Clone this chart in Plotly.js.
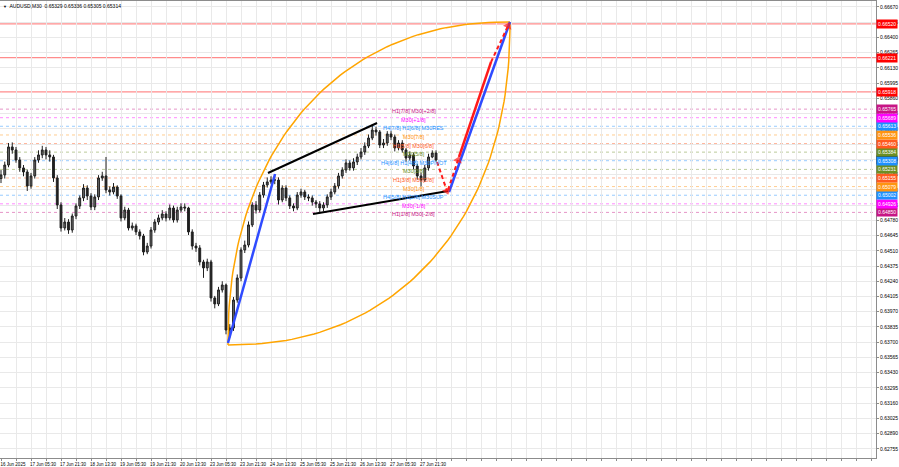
<!DOCTYPE html>
<html><head><meta charset="utf-8">
<script src="https://cdn.plot.ly/plotly-3.0.1.min.js"></script>
<style>html,body{margin:0;padding:0;background:#fff}#chart{width:899px;height:467px}</style>
</head><body><div id="chart"></div>
<script>
// ---- data: AUDUSD M30, resampled to 4-bar candles (bar index = M30 bar number) ----
const candleBars = [];
const firstOpen = 0.65150;
const closes = [0.65182,0.65270,0.65430,0.65403,0.65314,0.65244,0.65208,0.65084,0.65173,0.65314,
0.65359,0.65403,0.65359,0.65341,0.65155,0.64916,0.64712,0.64765,0.64694,0.64818,
0.64907,0.64978,0.65066,0.64995,0.64898,0.64987,0.65155,0.65173,0.65049,0.65031,
0.65075,0.64995,0.64801,0.64871,0.64712,0.64730,0.64677,0.64641,0.64499,0.64552,
0.64694,0.64765,0.64801,0.64836,0.64801,0.64889,0.64783,0.64871,0.64898,0.64889,
0.64677,0.64552,0.64535,0.64411,0.64358,0.64411,0.64092,0.64039,0.64163,0.64207,
0.63808,0.63826,0.64074,0.64269,0.64517,0.64561,0.64739,0.64916,0.64871,0.65004,
0.65093,0.65120,0.65137,0.65137,0.64960,0.65066,0.64978,0.64907,0.64889,0.65004,
0.65031,0.64987,0.64978,0.64942,0.64925,0.64889,0.64916,0.64987,0.65031,0.65084,
0.65173,0.65226,0.65288,0.65244,0.65297,0.65341,0.65385,0.65438,0.65509,0.65580,
0.65563,0.65447,0.65465,0.65545,0.65518,0.65421,0.65465,0.65403,0.65332,0.65359,
0.65261,0.65173,0.65137,0.65244,0.65341,0.65376,0.65314];
const highs = [0.65225,0.65300,0.65465,0.65470,0.65430,0.65340,0.65270,0.65230,0.65200,0.65340,
0.65400,0.65440,0.65430,0.65400,0.65360,0.65180,0.64940,0.64800,0.64790,0.64840,
0.64930,0.65000,0.65100,0.65090,0.65020,0.65010,0.65180,0.65210,0.65341,0.65080,
0.65110,0.65090,0.65010,0.64900,0.64890,0.64760,0.64750,0.64700,0.64660,0.64580,
0.64720,0.64790,0.64830,0.64870,0.64860,0.64920,0.64910,0.64900,0.64930,0.64930,
0.64900,0.64700,0.64580,0.64560,0.64430,0.64440,0.64430,0.64110,0.64190,0.64240,
0.64220,0.63860,0.64100,0.64300,0.64540,0.64600,0.64770,0.64940,0.64950,0.65030,
0.65120,0.65160,0.65170,0.65180,0.65160,0.65090,0.65090,0.65000,0.64930,0.65030,
0.65060,0.65050,0.65010,0.65000,0.64960,0.64950,0.64940,0.65010,0.65060,0.65110,
0.65200,0.65250,0.65320,0.65310,0.65330,0.65370,0.65420,0.65470,0.65540,0.65630,
0.65610,0.65580,0.65500,0.65570,0.65570,0.65540,0.65490,0.65490,0.65420,0.65390,
0.65380,0.65280,0.65200,0.65270,0.65370,0.65400,0.65400];
const lows = [0.65110,0.65150,0.65250,0.65370,0.65290,0.65210,0.65170,0.65040,0.65060,0.65150,
0.65290,0.65330,0.65320,0.65300,0.65120,0.64880,0.64680,0.64690,0.64660,0.64670,
0.64790,0.64880,0.64950,0.64960,0.64870,0.64870,0.64960,0.65130,0.65020,0.65000,
0.65010,0.64970,0.64770,0.64780,0.64690,0.64690,0.64650,0.64610,0.64470,0.64480,
0.64530,0.64670,0.64740,0.64780,0.64770,0.64780,0.64760,0.64760,0.64850,0.64860,
0.64650,0.64520,0.64500,0.64380,0.64270,0.64330,0.64060,0.64000,0.64020,0.64140,
0.63770,0.63740,0.63800,0.64050,0.64240,0.64490,0.64540,0.64720,0.64840,0.64850,
0.64980,0.65070,0.65100,0.65100,0.64920,0.64940,0.64950,0.64880,0.64860,0.64870,
0.64980,0.64960,0.64950,0.64910,0.64890,0.64840,0.64860,0.64890,0.64960,0.65010,
0.65060,0.65150,0.65200,0.65220,0.65220,0.65270,0.65320,0.65360,0.65420,0.65490,
0.65530,0.65420,0.65420,0.65440,0.65490,0.65390,0.65400,0.65380,0.65300,0.65310,
0.65230,0.65140,0.65080,0.65120,0.65220,0.65330,0.65300];
const barsPerCandle = 4;

// time axis labels (every 32 M30 bars)
const timeLabels = ['16 Jun 2025','17 Jun 05:30','17 Jun 21:30','18 Jun 13:30','19 Jun 05:30','19 Jun 21:30',
 '20 Jun 13:30','23 Jun 05:30','23 Jun 21:30','24 Jun 13:30','25 Jun 05:30','25 Jun 21:30','26 Jun 13:30',
 '27 Jun 05:30','27 Jun 21:30'];

// Murrey math levels
const levelPrices = [0.64850,0.64926,0.65002,0.65079,0.65155,0.65231,0.65308,0.65384,0.65460,0.65536,0.65613,0.65689,0.65765];
const levelLabels = ['0.64850','0.64926','0.65002','0.65079','0.65155','0.65231','0.65308','0.65384','0.65460','0.65536','0.65613','0.65689','0.65765'];
const levelColors = ['#c71585','#ff00ff','#1e90ff','#ff9410','#ff5a1f','#6b8e23','#1e90ff','#6b8e23','#ff5a1f','#ff9410','#1e90ff','#ff00ff','#c71585'];
const levelTexts = ['H1[1/8] M30[-2/8]','M30[-1/8]','H4[5/8] H1[2/8] M30SUP','M30[1/8]','H1[3/8] M30[2/8]','M30[3/8]',
 'H4[6/8] H1[4/8] M30PIVOT','M30[5/8]','H1[5/8] M30[6/8]','M30[7/8]','H4[7/8] H1[6/8] M30RES','M30[+1/8]','H1[7/8] M30[+2/8]'];

// red resistance lines
const redPrices = [0.66520,0.66221,0.65918];
const redLabels = ['0.66520','0.66221','0.65918'];
const currentPrice = 0.65314;

// drawn objects (bar index, price)
const blueUpBars = [242.1,292.3],   blueUpPrices = [0.63693,0.65190];
const upperBars = [284.8,401.1],    upperPrices = [0.65199,0.65642];
const lowerBars = [332.8,476.8],    lowerPrices = [0.64836,0.65040];
const dash1Bars = [465.1,475.7],    dash1Prices = [0.65297,0.65040];
const dash2Bars = [476.8,487.5],    dash2Prices = [0.65049,0.65314];
const redUpBars = [488.5,522.7],    redUpPrices = [0.65341,0.66183];
const dash3Bars = [522.7,540.8],    dash3Prices = [0.66183,0.66502];
const blueProjBars = [477.9,542.9], blueProjPrices = [0.65031,0.66537];
const lensBars = [242.1,542.9],     lensPrices = [0.63675,0.66537];

// ---- build ----
const opens = [];
for (let k = 0; k < closes.length; k++) {
  candleBars.push(k * barsPerCandle);
  opens.push(k === 0 ? firstOpen : closes[k - 1]);
}

const FONT = 'Liberation Sans, Arial, sans-serif';
const traces = [];

traces.push({
  type: 'candlestick', x: candleBars, open: opens, high: highs, low: lows, close: closes,
  increasing: {line: {color: '#202020', width: 1}, fillcolor: '#6a6a6a'},
  decreasing: {line: {color: '#202020', width: 1}, fillcolor: '#202020'},
  whiskerwidth: 0, hoverinfo: 'skip', showlegend: false
});

function line(x, y, color, width, dash) {
  traces.push({type: 'scatter', mode: 'lines', x: x, y: y, line: {color: color, width: width, dash: dash || 'solid'},
    hoverinfo: 'skip', showlegend: false});
}
function arrowLine(x, y, color, width, dash) {
  traces.push({type: 'scatter', mode: 'lines+markers', x: x, y: y,
    line: {color: color, width: width, dash: dash || 'solid'},
    marker: {symbol: 'triangle-up', size: [0, 8], color: color, angleref: 'previous', line: {width: 0}},
    hoverinfo: 'skip', showlegend: false});
}

// lens (two curved arcs between the lens anchors)
(function () {
  const n = 2.2, N = 80;
  const [x1, x2] = lensBars, [p1, p2] = lensPrices;
  const ux = [], uy = [], lx = [], ly = [];
  for (let i = 0; i <= N; i++) {
    const t = (Math.PI / 2) * i / N;
    const c = Math.pow(Math.cos(t), 2 / n), s = Math.pow(Math.sin(t), 2 / n);
    ux.push(x2 - (x2 - x1) * c); uy.push(p1 + (p2 - p1) * s);
    lx.push(x1 + (x2 - x1) * s); ly.push(p2 - (p2 - p1) * c);
  }
  line(ux, uy, '#ffa500', 1.5);
  line(lx, ly, '#ffa500', 1.5);
})();

line(blueUpBars, blueUpPrices, '#2f4bff', 2.5);
line(upperBars, upperPrices, '#000000', 2);
line(lowerBars, lowerPrices, '#000000', 2);
line(blueProjBars, blueProjPrices, '#2f4bff', 2.5);
line(redUpBars, redUpPrices, '#ff1a1a', 2.5);
arrowLine(dash1Bars, dash1Prices, '#ff1a1a', 2, '4px,3px');
arrowLine(dash2Bars, dash2Prices, '#ff1a1a', 2, '4px,3px');
arrowLine(dash3Bars, dash3Prices, '#ff1a1a', 2, '4px,3px');

// shapes: horizontal lines
const shapes = [];
levelPrices.forEach((p, i) => shapes.push({type: 'line', xref: 'paper', x0: 0, x1: 1, yref: 'y', y0: p, y1: p,
  line: {color: levelColors[i], width: 1, dash: '3px,3px'}, opacity: 0.45, layer: 'below'}));
redPrices.forEach(p => shapes.push({type: 'line', xref: 'paper', x0: 0, x1: 1, yref: 'y', y0: p, y1: p,
  line: {color: '#ff8c8c', width: 1.2}, layer: 'below'}));

// annotations
const ann = [];
ann.push({xref: 'paper', yref: 'paper', x: 0, y: 1, xanchor: 'left', yanchor: 'top', xshift: 1, yshift: 0,
  text: '<span style="font-size:4px">▼</span>  AUDUSD,M30  0.65329 0.65336 0.65305 0.65314',
  showarrow: false, font: {family: FONT, size: 5, color: '#000'}});
function priceTag(p, txt, bg) {
  ann.push({xref: 'paper', x: 1, xanchor: 'left', xshift: 0, yref: 'y', y: p, yanchor: 'middle', text: txt,
    showarrow: false, bgcolor: bg, borderpad: 1, font: {family: FONT, size: 5, color: '#ffffff'}});
}
redPrices.forEach((p, i) => priceTag(p, redLabels[i], '#ff0000'));
priceTag(currentPrice, '0.65314', '#000000');
levelPrices.forEach((p, i) => priceTag(p, levelLabels[i], levelColors[i]));
const textBar = 440;
levelPrices.forEach((p, i) => ann.push({xref: 'x', yref: 'y', x: textBar, y: p, xanchor: 'center', yanchor: 'middle',
  yshift: -2, text: levelTexts[i], showarrow: false, font: {family: FONT, size: 5.5, color: levelColors[i]}}));

// x ticks
const tickvals = [], ticktext = [];
for (let b = 0; b <= 933; b += 16) {
  tickvals.push(b);
  ticktext.push(b % 32 === 0 && b / 32 < timeLabels.length ? timeLabels[b / 32] : '');
}

const layout = {
  width: 899, height: 467, margin: {l: 0, r: 23, t: 1, b: 9, pad: 0},
  paper_bgcolor: '#ffffff', plot_bgcolor: '#ffffff', showlegend: false,
  font: {family: FONT, size: 5, color: '#000'},
  xaxis: {range: [-1.07, 933.3], tickmode: 'array', tickvals: tickvals, ticktext: ticktext, tickangle: 0,
    showgrid: true, gridcolor: '#e9e9e9', gridwidth: 1, zeroline: false, rangeslider: {visible: false},
    showline: true, linecolor: '#8c8c8c', linewidth: 1, mirror: true, ticks: 'outside', ticklen: 2, tickcolor: '#8c8c8c',
    tickfont: {family: FONT, size: 4.5, color: '#000'}, ticklabelshift: 12, automargin: false, fixedrange: true},
  yaxis: {range: [0.62674, 0.66723], side: 'right', tickmode: 'linear', tick0: 0.62755, dtick: 0.00135,
    tickformat: '.5f', showgrid: true, gridcolor: '#e9e9e9', gridwidth: 1, zeroline: false,
    showline: true, linecolor: '#8c8c8c', linewidth: 1, mirror: true, ticks: 'outside', ticklen: 2, tickcolor: '#8c8c8c',
    tickfont: {family: FONT, size: 5, color: '#000'}, automargin: false, fixedrange: true},
  shapes: shapes, annotations: ann
};

Plotly.newPlot('chart', traces, layout, {displayModeBar: false, staticPlot: true});
</script></body></html>
